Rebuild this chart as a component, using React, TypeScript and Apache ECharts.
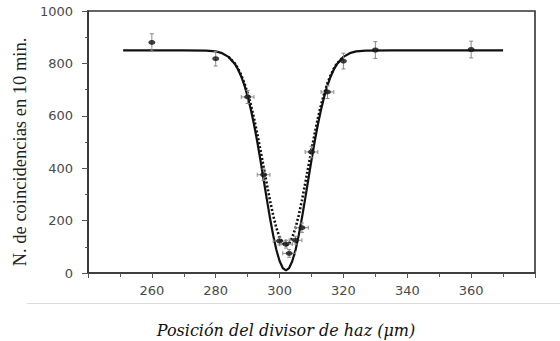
import React, { useEffect, useRef } from "react";
import * as echarts from "echarts";

// Measured points (position in µm, coincidences in 10 min)
const pointX = [260, 280, 290, 295, 300, 302, 303, 305, 307, 310, 315, 320, 330, 360];
const pointY = [880, 818, 672, 375, 122, 110, 75, 125, 173, 462, 691, 809, 851, 853];
const errY = [33, 28, 25, 22, 15, 15, 15, 15, 18, 22, 25, 30, 32, 32];
const errX = [0, 0, 2, 2, 2, 2, 2, 2, 2, 2, 2, 0, 0, 0];

// Solid curve
const solidX = [251, 270, 277, 280, 282, 284, 286, 287, 288, 289, 290, 291, 292, 293, 294, 295, 296, 297, 298, 299, 300, 301, 302, 303, 304, 305, 306, 307, 308, 309, 310, 311, 312, 313, 314, 315, 316, 317, 318, 320, 322, 324, 327, 335, 370];
const solidY = [850, 850, 849, 846, 839, 825, 798, 777, 750, 716, 674, 624, 567, 502, 431, 357, 282, 210, 144, 88, 46, 19, 10, 19, 46, 88, 144, 210, 282, 357, 431, 502, 567, 624, 674, 716, 750, 777, 798, 825, 839, 846, 849, 850, 850];

// Dotted curve
const dotX = [284, 286, 287, 288, 289, 290, 291, 292, 293, 294, 295, 296, 297, 298, 299, 300, 301, 302, 303, 304, 305, 306, 307, 308, 309, 310, 311, 312, 313, 314, 315, 316, 317, 318, 320];
const dotY = [825, 800, 780, 755, 724, 686, 642, 590, 532, 470, 405, 340, 277, 220, 172, 136, 113, 105, 113, 136, 172, 220, 277, 340, 405, 470, 532, 590, 642, 686, 724, 755, 780, 800, 825];

const xTitle = "Posición del divisor de haz (μm)";
const yTitle = "N. de coincidencias en 10 min.";

export default function App() {
  const ref = useRef<HTMLDivElement>(null);
  useEffect(() => {
    if (!ref.current) return;
    const chart = echarts.init(ref.current, undefined, { renderer: "svg" });
    const tickFont = { color: "#4a4a4a", fontSize: 13, fontFamily: "DejaVu Sans" };
    chart.setOption({
      animation: false,
      backgroundColor: "#fff",
      grid: {
        left: 88,
        right: 25,
        top: 11,
        bottom: 68,
        show: true,
        borderColor: "#333",
        borderWidth: 1.6,
        backgroundColor: "transparent",
      },
      xAxis: {
        type: "value",
        min: 240,
        max: 380,
        interval: 20,
        axisLine: { show: true, lineStyle: { color: "#333", width: 1.6 } },
        axisTick: { show: true, inside: false, length: 5, lineStyle: { color: "#555" } },
        minorTick: { show: true, splitNumber: 2, length: 4, lineStyle: { color: "#555" } },
        splitLine: { show: false },
        axisLabel: { ...tickFont, margin: 11, showMinLabel: false, showMaxLabel: false },
      },
      yAxis: {
        type: "value",
        min: 0,
        max: 1000,
        interval: 200,
        axisLine: { show: true, lineStyle: { color: "#333", width: 1.6 } },
        axisTick: { show: true, inside: false, length: 6, lineStyle: { color: "#555" } },
        minorTick: { show: true, splitNumber: 2, length: 3, lineStyle: { color: "#555" } },
        splitLine: { show: false },
        axisLabel: { ...tickFont, margin: 15, formatter: (v: number) => String(v) },
      },
      series: [
        {
          type: "line",
          data: solidX.map((x, i) => [x, solidY[i]]),
          showSymbol: false,
          lineStyle: { color: "#111", width: 2.2 },
          z: 3,
        },
        {
          type: "line",
          data: dotX.map((x, i) => [x, dotY[i]]),
          showSymbol: false,
          lineStyle: { color: "#111", width: 2.6, type: [2, 2] },
          z: 3,
        },
        {
          type: "custom",
          data: pointX.map((x, i) => [x, pointY[i], errY[i], errX[i]]),
          encode: { x: 0, y: 1 },
          z: 4,
          renderItem: (params: any, api: any) => {
            const x = api.value(0);
            const y = api.value(1);
            const ey = api.value(2);
            const ex = api.value(3);
            const top = api.coord([x, y + ey]);
            const bot = api.coord([x, y - ey]);
            const style = { stroke: "#888", lineWidth: 1, fill: "none" };
            const children: any[] = [
              { type: "line", shape: { x1: top[0], y1: top[1], x2: bot[0], y2: bot[1] }, style },
              { type: "line", shape: { x1: top[0] - 2, y1: top[1], x2: top[0] + 2, y2: top[1] }, style },
              { type: "line", shape: { x1: bot[0] - 2, y1: bot[1], x2: bot[0] + 2, y2: bot[1] }, style },
            ];
            if (ex > 0) {
              const l = api.coord([x - ex, y]);
              const r = api.coord([x + ex, y]);
              children.push(
                { type: "line", shape: { x1: l[0], y1: l[1], x2: r[0], y2: r[1] }, style },
                { type: "line", shape: { x1: l[0], y1: l[1] - 2, x2: l[0], y2: l[1] + 2 }, style },
                { type: "line", shape: { x1: r[0], y1: r[1] - 2, x2: r[0], y2: r[1] + 2 }, style }
              );
            }
            return { type: "group", children };
          },
        },
        {
          type: "scatter",
          data: pointX.map((x, i) => [x, pointY[i]]),
          symbol: "circle",
          symbolSize: [7, 5],
          itemStyle: { color: "#111" },
          z: 5,
        },
      ],
      graphic: [
        {
          type: "line",
          shape: { x1: 27, y1: 303.5, x2: 560, y2: 303.5 },
          style: { stroke: "#dcdcdc", lineWidth: 1 },
        },
        {
          type: "text",
          x: 286,
          y: 330,
          style: {
            text: xTitle,
            font: "italic 16px 'DejaVu Serif'",
            fill: "#111",
            textAlign: "center",
            textVerticalAlign: "middle",
          },
        },
        {
          type: "text",
          x: 20,
          y: 152,
          rotation: Math.PI / 2,
          style: {
            text: yTitle,
            font: "18.5px 'Liberation Serif'",
            fill: "#222",
            textAlign: "center",
            textVerticalAlign: "middle",
          },
        },
      ],
    });
    return () => chart.dispose();
  }, []);
  return <div ref={ref} style={{ width: 560, height: 341, position: "absolute", left: 0, top: 0 }} />;
}
